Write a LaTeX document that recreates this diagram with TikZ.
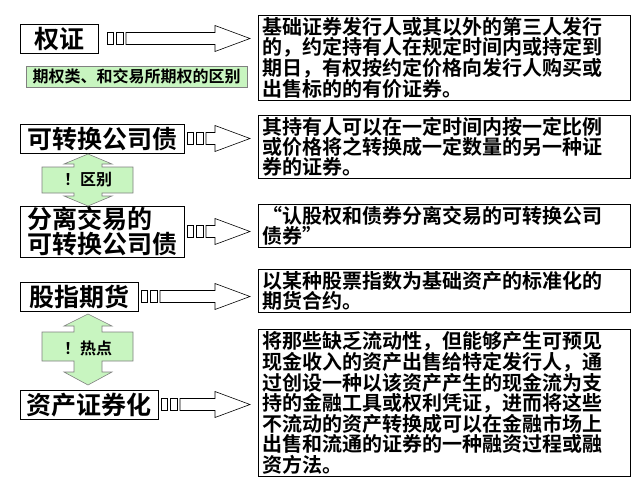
\documentclass[tikz,border=0pt]{standalone}
\usepackage{fontspec}
\setmainfont{Noto Sans CJK SC}[BoldFont={Noto Sans CJK SC Bold}]
\usetikzlibrary{calc}
\definecolor{lg}{HTML}{C8F5C0}
\begin{document}
\begin{tikzpicture}[x=1pt,y=-1pt,
  tbox/.style={draw,thick,anchor=north west,inner sep=0pt,font=\bfseries\fontsize{25}{25}\selectfont},
  dbox/.style={draw,thick,anchor=north west,inner xsep=4pt,inner ysep=2pt,text width=364pt,align=left,font=\bfseries\fontsize{20}{19}\selectfont},
  blk/.style={draw,fill=white,line width=0.6pt},
  garr/.style={draw=gray,fill=lg,line width=0.6pt}]
\useasboundingbox (0,0) rectangle (640,483);
% left boxes
\node[tbox,minimum width=78pt,minimum height=29pt] (a1) at (20,24) {权证\hspace{18pt}};
\node[draw=gray,fill=lg,anchor=north west,minimum width=221pt,minimum height=21pt,inner sep=0pt,font=\bfseries\fontsize{16}{16}\selectfont] (g0) at (26,66) {期权类、和交易所期权的区别};
\node[tbox,minimum width=164pt,minimum height=29pt] (a2) at (20,124) {可转换公司债};
\node[tbox,minimum width=164pt,minimum height=51pt,align=left] (a3) at (20,206) {分离交易的\\可转换公司债};
\node[tbox,minimum width=118pt,minimum height=29pt] (a4) at (20,282) {股指期货\hspace{12pt}};
\node[tbox,minimum width=138pt,minimum height=29pt] (a5) at (20,390) {资产证券化\hspace{8pt}};
% right boxes
\node[dbox] (b1) at (258,15) {基础证券发行人或其以外的第三人发行\\的，约定持有人在规定时间内或持定到\\期日，有权按约定价格向发行人购买或\\出售标的的有价证券。};
\node[dbox] (b2) at (258,115) {其持有人可以在一定时间内按一定比例\\或价格将之转换成一定数量的另一种证\\券的证券。};
\node[dbox] (b3) at (258,204) {“认股权和债券分离交易的可转换公司\\债券”};
\node[dbox] (b4) at (258,269) {以某种股票指数为基础资产的标准化的\\期货合约。};
\node[dbox] (b5) at (258,329) {将那些缺乏流动性，但能够产生可预见\\现金收入的资产出售给特定发行人，通\\过创设一种以该资产产生的现金流为支\\持的金融工具或权利凭证，进而将这些\\不流动的资产转换成可以在金融市场上\\出售和流通的证券的一种融资过程或融\\资方法。};
% block arrows: #1 start x, #2 centre y
\newcommand\blkarrow[2]{%
 \draw[blk] ({#1},{#2-6}) rectangle ({#1+6},{#2+6});
 \draw[blk] ({#1+9},{#2-6}) rectangle ({#1+16},{#2+6});
 \draw[blk] ({#1+19},{#2-6}) -- (215,{#2-6}) -- (215,{#2-13}) -- (250,{#2})
   -- (215,{#2+13}) -- (215,{#2+6}) -- ({#1+19},{#2+6}) -- cycle;}
\blkarrow{107}{38.5}
\blkarrow{187}{138.5}
\blkarrow{187}{231.5}
\blkarrow{141}{296.5}
\blkarrow{161}{404.5}
% green double arrows
\draw[garr] (88,154) -- (112,164) -- (102,164) -- (102,167) -- (133,167) -- (133,193) -- (102,193) -- (102,196) -- (112,196) -- (88,206) -- (64,196) -- (74,196) -- (74,193) -- (42,193) -- (42,167) -- (74,167) -- (74,164) -- (64,164) -- cycle;
\node[font=\bfseries\fontsize{16}{16}\selectfont] (g1) at (88,180) {！区别};
\draw[garr] (88,314) -- (112,326) -- (102,326) -- (102,332) -- (133,332) -- (133,361) -- (102,361) -- (102,372) -- (112,372) -- (88,385) -- (64,372) -- (74,372) -- (74,361) -- (42,361) -- (42,332) -- (74,332) -- (74,326) -- (64,326) -- cycle;
\node[font=\bfseries\fontsize{16}{16}\selectfont] (g2) at (88,348) {！热点};
\end{tikzpicture}
\end{document}
